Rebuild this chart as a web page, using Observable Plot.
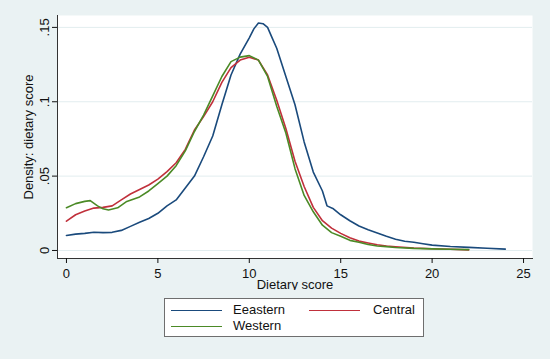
<!DOCTYPE html>
<html>
<head>
<meta charset="utf-8">
<script src="https://cdn.jsdelivr.net/npm/d3@7"></script>
<script src="https://cdn.jsdelivr.net/npm/@observablehq/plot@0.6"></script>
<style>
  html, body { margin: 0; padding: 0; background: #eaf2f3; }
  #wrap { position: relative; width: 550px; height: 359px; background: #eaf2f3; font-family: "Liberation Sans", Arial, sans-serif; overflow: hidden; }
  #legend { position: absolute; left: 164px; top: 298px; width: 258px; height: 37px; background: #fff; border: 1px solid #6e6e6e; }
  .sw { position: absolute; height: 0; border-top: 1.6px solid; }
  .lt { position: absolute; font-size: 13px; color: #111; line-height: 1; }
</style>
</head>
<body>
<div id="wrap"><div id="chart"></div><div id="legend"></div></div>
<script>
// Eastern (blue)
const eastX = [0,0.5,1,1.5,2,2.5,3,3.5,4,4.5,5,5.5,6,6.5,7,7.5,8,8.5,9,9.5,10,10.25,10.5,10.75,11,11.25,11.5,12,12.5,13,13.5,14,14.25,14.6,15,15.5,16,16.5,17,17.5,18,18.5,19,19.5,20,21,22,23,24];
const eastY = [0.0101,0.011,0.0115,0.0123,0.012,0.0122,0.0135,0.0162,0.019,0.0215,0.025,0.030,0.034,0.042,0.050,0.063,0.077,0.098,0.118,0.132,0.143,0.149,0.153,0.1525,0.150,0.143,0.136,0.117,0.098,0.073,0.0527,0.040,0.030,0.028,0.024,0.020,0.0165,0.014,0.0118,0.0095,0.0075,0.0062,0.0055,0.0045,0.0036,0.0027,0.0021,0.0015,0.0009];
// Central (red)
const centX = [0,0.5,1,1.5,2,2.5,3,3.5,4,4.5,5,5.5,6,6.5,7,7.5,8,8.5,9,9.5,10,10.5,11,11.5,12,12.5,13,13.5,14,14.5,15,15.5,16,16.5,17,17.5,18,19,20,21,22];
const centY = [0.0197,0.024,0.0265,0.0285,0.029,0.030,0.034,0.038,0.041,0.044,0.048,0.053,0.059,0.068,0.081,0.090,0.100,0.113,0.123,0.128,0.130,0.128,0.118,0.101,0.082,0.060,0.043,0.029,0.020,0.015,0.0115,0.0085,0.0063,0.005,0.0038,0.003,0.0025,0.0017,0.0012,0.0008,0.0004];
// Western (green)
const westX = [0,0.5,1,1.3,1.7,2,2.3,2.8,3.3,4,4.5,5,5.5,6,6.5,7,7.5,8,8.5,9,9.5,10,10.5,11,11.5,12,12.5,13,13.5,14,14.5,15,15.5,16,16.5,17,17.5,18,19,20,21,22];
const westY = [0.0287,0.0315,0.033,0.0335,0.030,0.028,0.0272,0.0287,0.033,0.036,0.040,0.045,0.050,0.057,0.067,0.080,0.091,0.104,0.117,0.127,0.130,0.131,0.128,0.117,0.097,0.079,0.055,0.037,0.026,0.017,0.012,0.0095,0.0068,0.0055,0.004,0.003,0.0026,0.002,0.0014,0.0011,0.0008,0.0006];

const seriesNames = ["Eeastern", "Central", "Western"];
const seriesColors = ["#1a4a7c", "#c0303b", "#4b8a26"];
const xTicks = [0, 5, 10, 15, 20, 25];
const yTicks = [0, 0.05, 0.1, 0.15];
const yTickLabels = ["0", ".05", ".1", ".15"];

const toRows = (xs, ys, s) => xs.map((x, i) => ({x, y: ys[i], s}));
const data = [
  ...toRows(eastX, eastY, seriesNames[0]),
  ...toRows(centX, centY, seriesNames[1]),
  ...toRows(westX, westY, seriesNames[2])
];

const font = "Liberation Sans, Arial, sans-serif";
const chart = Plot.plot({
  width: 550,
  height: 290,
  marginLeft: 57,
  marginRight: 18,
  marginTop: 15,
  marginBottom: 32,
  style: {background: "transparent", fontFamily: font, fontSize: "13px", color: "#111"},
  x: {domain: [-0.49, 25.49], ticks: xTicks},
  y: {domain: [-0.0054, 0.158], ticks: yTicks},
  color: {domain: seriesNames, range: seriesColors},
  marks: [
    Plot.frame({fill: "white", stroke: null}),
    Plot.gridY(yTicks, {stroke: "#e2edef", strokeOpacity: 1, strokeWidth: 1}),
    Plot.line(data, {x: "x", y: "y", z: "s", stroke: "s", strokeWidth: 1.6}),
    Plot.frame({anchor: "left", stroke: "#333", strokeWidth: 1}),
    Plot.frame({anchor: "bottom", stroke: "#333", strokeWidth: 1}),
    Plot.axisY(yTicks, {
      tickFormat: (d) => yTickLabels[yTicks.indexOf(d)],
      tickSize: 5, tickPadding: 4, tickRotate: -90, fontSize: 13,
      label: "Density: dietary score", labelAnchor: "center", labelArrow: "none", labelOffset: 34
    }),
    Plot.axisX(xTicks, {
      tickSize: 5, tickPadding: 5, fontSize: 13,
      label: "Dietary score", labelAnchor: "center", labelArrow: "none", labelOffset: 30
    })
  ]
});
document.getElementById("chart").appendChild(chart);

// legend
const lg = document.getElementById("legend");
const items = [
  {name: seriesNames[0], color: seriesColors[0], sx: 6, tx: 68, row: 0},
  {name: seriesNames[1], color: seriesColors[1], sx: 144, tx: 208, row: 0},
  {name: seriesNames[2], color: seriesColors[2], sx: 6, tx: 68, row: 1}
];
items.forEach(it => {
  const top = it.row === 0 ? 11 : 27;
  const sw = document.createElement("div");
  sw.className = "sw";
  sw.style.left = it.sx + "px";
  sw.style.width = "51px";
  sw.style.top = top + "px";
  sw.style.borderTopColor = it.color;
  lg.appendChild(sw);
  const t = document.createElement("div");
  t.className = "lt";
  t.style.left = it.tx + "px";
  t.style.top = (top - 7) + "px";
  t.textContent = it.name;
  lg.appendChild(t);
});
</script>
</body>
</html>
